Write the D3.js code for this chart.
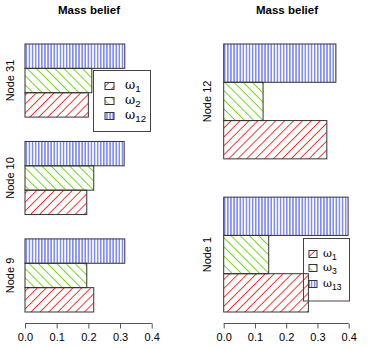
<!DOCTYPE html>
<html>
<head>
<meta charset="utf-8">
<script src="https://cdn.jsdelivr.net/npm/d3@7"></script>
<style>
  body { margin: 0; background: #fff; }
  text { font-family: "Liberation Sans", Arial, sans-serif; fill: #000; }
</style>
</head>
<body>
<svg width="374" height="349"></svg>
<script>
// left panel: groups listed bottom to top, values = [w1, w2, w12]
var leftNodes = ["Node 9", "Node 10", "Node 31"];
var leftValues = [
  [0.217, 0.195, 0.315],
  [0.195, 0.217, 0.313],
  [0.200, 0.211, 0.315]
];
var leftLegend = [["1"], ["2"], ["12"]];

// right panel: values = [w1, w3, w13]
var rightNodes = ["Node 1", "Node 12"];
var rightValues = [
  [0.271, 0.144, 0.398],
  [0.330, 0.126, 0.359]
];
var rightLegend = [["1"], ["3"], ["13"]];

var ticks = [0, 0.1, 0.2, 0.3, 0.4];
var title = "Mass belief";

var svg = d3.select("svg");
var defs = svg.append("defs");

// hatching patterns, like R density/angle fills
function hatch(id, color, spacing, angle, width) {
  var p = defs.append("pattern")
      .attr("id", id)
      .attr("patternUnits", "userSpaceOnUse")
      .attr("width", spacing)
      .attr("height", 10)
      .attr("patternTransform", "rotate(" + angle + ")");
  p.append("line")
      .attr("x1", spacing / 2).attr("x2", spacing / 2)
      .attr("y1", -1).attr("y2", 11)
      .attr("stroke", color)
      .attr("stroke-width", width);
}
hatch("red", "#ff1a1a", 6.3, 45, 0.9);
hatch("green", "#5fd600", 6.5, -45, 0.9);
hatch("blue", "#2233ff", 3.1, 0, 0.9);
var fills = ["url(#red)", "url(#green)", "url(#blue)"];

function panel(opts) {
  var x = d3.scaleLinear().domain([0, 0.4]).range(opts.xr);
  var nUnits = opts.nodes.length * 4;
  var y = d3.scaleLinear().domain([1, nUnits]).range([312, 44]);
  var g = svg.append("g");

  var bars = [];
  opts.values.forEach(function(vals, i) {
    vals.forEach(function(v, j) {
      bars.push({ v: v, j: j, lo: 1 + 4 * i + j });
    });
  });

  g.selectAll("rect.bar").data(bars).enter().append("rect")
      .attr("class", "bar")
      .attr("x", x(0))
      .attr("y", function(d) { return y(d.lo + 1); })
      .attr("width", function(d) { return x(d.v) - x(0); })
      .attr("height", function(d) { return y(d.lo) - y(d.lo + 1); })
      .attr("fill", function(d) { return fills[d.j]; })
      .attr("stroke", "#333")
      .attr("stroke-width", 1);

  // group labels
  g.selectAll("text.node").data(opts.nodes).enter().append("text")
      .attr("class", "node")
      .attr("transform", function(d, i) {
        return "translate(" + opts.labelX + "," + y(2.5 + 4 * i) + ") rotate(-90)";
      })
      .attr("text-anchor", "middle")
      .attr("dy", "0.35em")
      .style("font-size", "11px")
      .text(function(d) { return d; });

  // axis
  var axis = d3.axisBottom(x).tickValues(ticks).tickSize(5).tickPadding(5)
      .tickFormat(d3.format(".1f"));
  var ax = g.append("g").attr("transform", "translate(0,323.5)").call(axis);
  ax.select(".domain").attr("stroke", "#555").attr("d", "M" + x(0) + ",0H" + x(0.4));
  ax.selectAll(".tick line").attr("stroke", "#555");
  ax.selectAll(".tick text").style("font-size", "11px")
      .style("font-family", "Liberation Sans, Arial, sans-serif").attr("fill", "#000");

  g.append("text")
      .attr("x", opts.titleX).attr("y", 14)
      .attr("text-anchor", "middle")
      .style("font-size", "11.5px").style("font-weight", "bold")
      .text(title);

  // legend (transparent box)
  var L = opts.legend;
  g.append("rect")
      .attr("x", L.x).attr("y", L.y).attr("width", L.w).attr("height", L.h)
      .attr("fill", "none").attr("stroke", "#444").attr("stroke-width", 1);
  opts.legendSubs.forEach(function(s, k) {
    var cy = L.rows[k];
    g.append("rect")
        .attr("x", L.sx).attr("y", cy - 3.5).attr("width", L.sw).attr("height", 7)
        .attr("fill", fills[k]).attr("stroke", "#333").attr("stroke-width", 1);
    var t = g.append("text")
        .attr("x", L.tx).attr("y", cy + 2.5)
        .style("font-size", L.fs + "px");
    t.append("tspan").style("font-family", "DejaVu Serif, serif").text("\u03c9");
    t.append("tspan").attr("dy", 3).style("font-size", (L.fs * 0.78) + "px").text(s[0]);
  });
}

panel({
  nodes: leftNodes, values: leftValues, legendSubs: leftLegend,
  xr: [25, 151.7], labelX: 10, titleX: 89,
  legend: { x: 93.5, y: 70.5, w: 57, h: 61, sx: 105, sw: 9, tx: 125, fs: 12.5, rows: [86, 101, 116] }
});

panel({
  nodes: rightNodes, values: rightValues, legendSubs: rightLegend,
  xr: [223.7, 348.7], labelX: 207, titleX: 287,
  legend: { x: 303.5, y: 238.5, w: 46, h: 62.5, sx: 309, sw: 8, tx: 323, fs: 11, rows: [254, 268, 284] }
});
</script>
</body>
</html>
